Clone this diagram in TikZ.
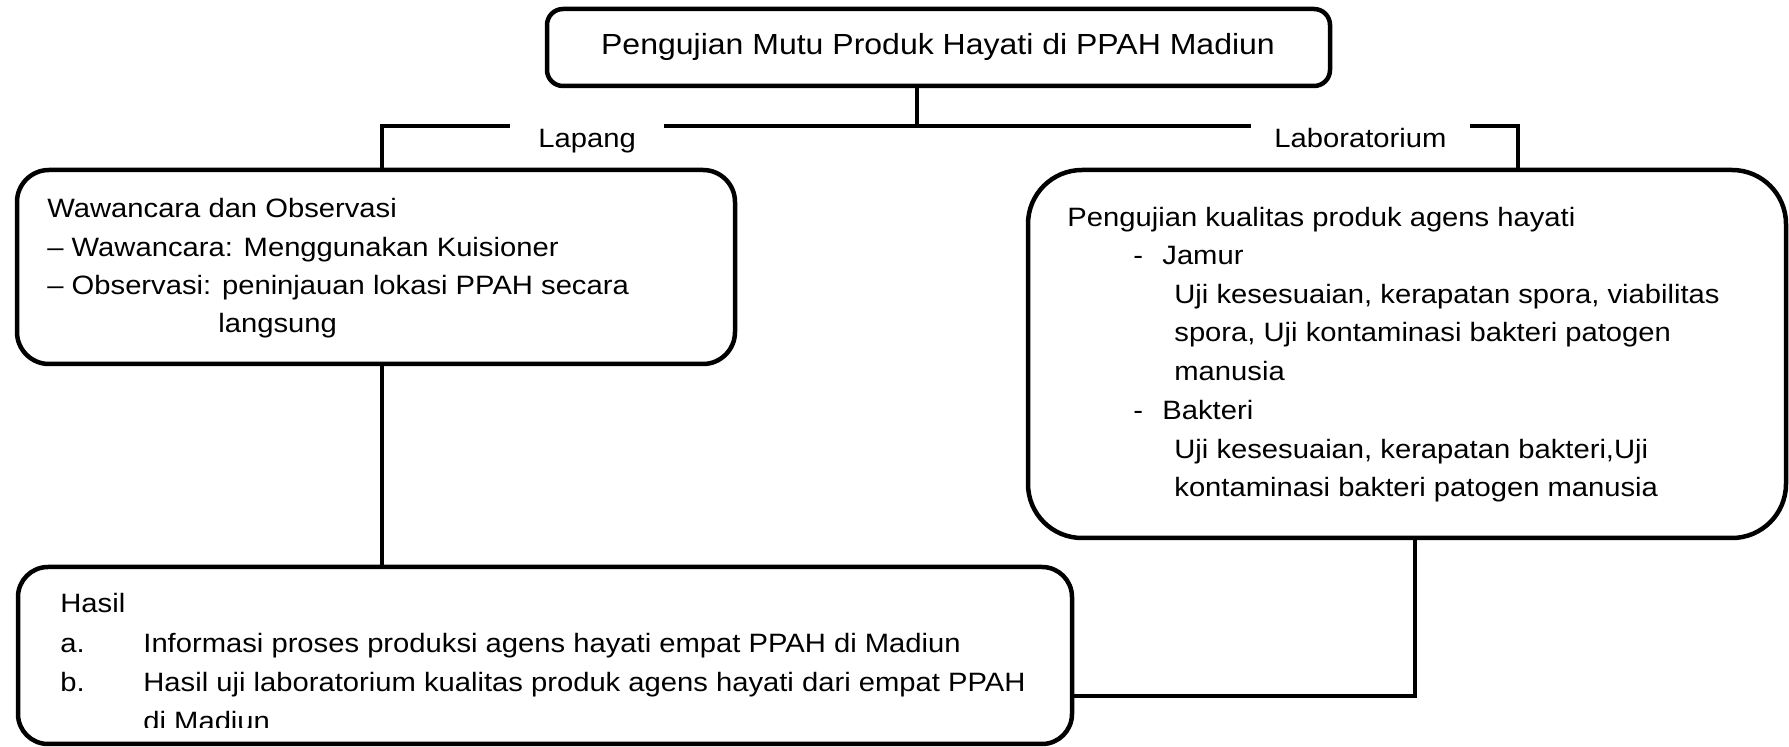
\documentclass[tikz,border=0pt]{standalone}
\usepackage{fontspec}
\usetikzlibrary{fit}
\newfontfamily\bodyfont{Liberation Sans}[FakeStretch=1.1]
\tikzset{
  box/.style={draw=black, line width=2.25pt, inner sep=0pt, fill=none},
  conn/.style={draw=black, line width=1.6pt},
  txt/.style={anchor=base west, inner sep=0pt, font=\bodyfont\fontsize{13.27pt}{16pt}\selectfont},
  ttl/.style={anchor=base, inner sep=0pt, font=\bodyfont\fontsize{14.55pt}{17pt}\selectfont}
}
\begin{document}
\begin{tikzpicture}[x=0.5pt, y=-0.5pt]
\useasboundingbox (0,0) rectangle (1789,747);
\fill[white] (0,0) rectangle (1789,747);

% box corners
\coordinate (t1) at (547,9);   \coordinate (t2) at (1330,86);
\coordinate (l1) at (17,170);  \coordinate (l2) at (735,364);
\coordinate (r1) at (1028,170);\coordinate (r2) at (1786,538);
\coordinate (b1) at (18,567);  \coordinate (b2) at (1072,744);

\node[box, rounded corners=8pt,  fit=(t1)(t2)] (top) {};
\node[box, rounded corners=16pt, fit=(l1)(l2)] (left) {};
\node[box, rounded corners=27pt, fit=(r1)(r2)] (right) {};
\node[box, rounded corners=15pt, fit=(b1)(b2)] (bottom) {};

% title
\node[ttl] (title) at (938,55) {Pengujian Mutu Produk Hayati di PPAH Madiun};

% branch labels
\node[txt] (lapang) at (538,148) {Lapang};
\node[txt] (lab) at (1274,148) {Laboratorium};

% connector points
\coordinate (hub) at (917,126);
\coordinate (lx) at (382,126);
\coordinate (rx) at (1518,126);
\coordinate (gL1) at (510,126);
\coordinate (gL2) at (664,126);
\coordinate (gR1) at (1251,126);
\coordinate (gR2) at (1470,126);
\coordinate (rb) at (1415,696);

\draw[conn] (top.south -| hub) -- (hub);
\draw[conn] (left.north -| lx) -- (lx) -- (gL1);
\draw[conn] (gL2) -- (gR1);
\draw[conn] (gR2) -- (rx) -- (right.north -| rx);
\draw[conn] (left.south -| lx) -- (bottom.north -| lx);
\draw[conn] (right.south -| rb) -- (rb) -- (bottom.east |- rb);

% left box text
\node[txt] (w1) at (47,218) {Wawancara dan Observasi};
\node[txt] (w2) at (47,257) {– Wawancara: Menggunakan Kuisioner};
\node[txt] (w3) at (47,295) {– Observasi: peninjauan lokasi PPAH secara};
\node[txt] (w4) at (218,333) {langsung};

% right box text
\node[txt] (p1) at (1067,227) {Pengujian kualitas produk agens hayati};
\node[txt] (p2d) at (1133,265) {-};
\node[txt] (p2) at (1162,265) {Jamur};
\node[txt] (p3) at (1174,304) {Uji kesesuaian, kerapatan spora, viabilitas};
\node[txt] (p4) at (1174,342) {spora, Uji kontaminasi bakteri patogen};
\node[txt] (p5) at (1174,381) {manusia};
\node[txt] (p6d) at (1133,420) {-};
\node[txt] (p6) at (1162,420) {Bakteri};
\node[txt] (p7) at (1174,459) {Uji kesesuaian, kerapatan bakteri,Uji};
\node[txt] (p8) at (1174,497) {kontaminasi bakteri patogen manusia};

% bottom box text
\node[txt] (h0) at (60,613) {Hasil};
\node[txt] (ha) at (60,653) {a.};
\node[txt] (hat) at (143,653) {Informasi proses produksi agens hayati empat PPAH di Madiun};
\node[txt] (hb) at (60,692) {b.};
\node[txt] (hbt) at (143,692) {Hasil uji laboratorium kualitas produk agens hayati dari empat PPAH};
\begin{scope}
  \clip (0,0) rectangle (1789,728);
  \node[txt] (hbt2) at (143,731) {di Madiun};
\end{scope}
\end{tikzpicture}
\end{document}
